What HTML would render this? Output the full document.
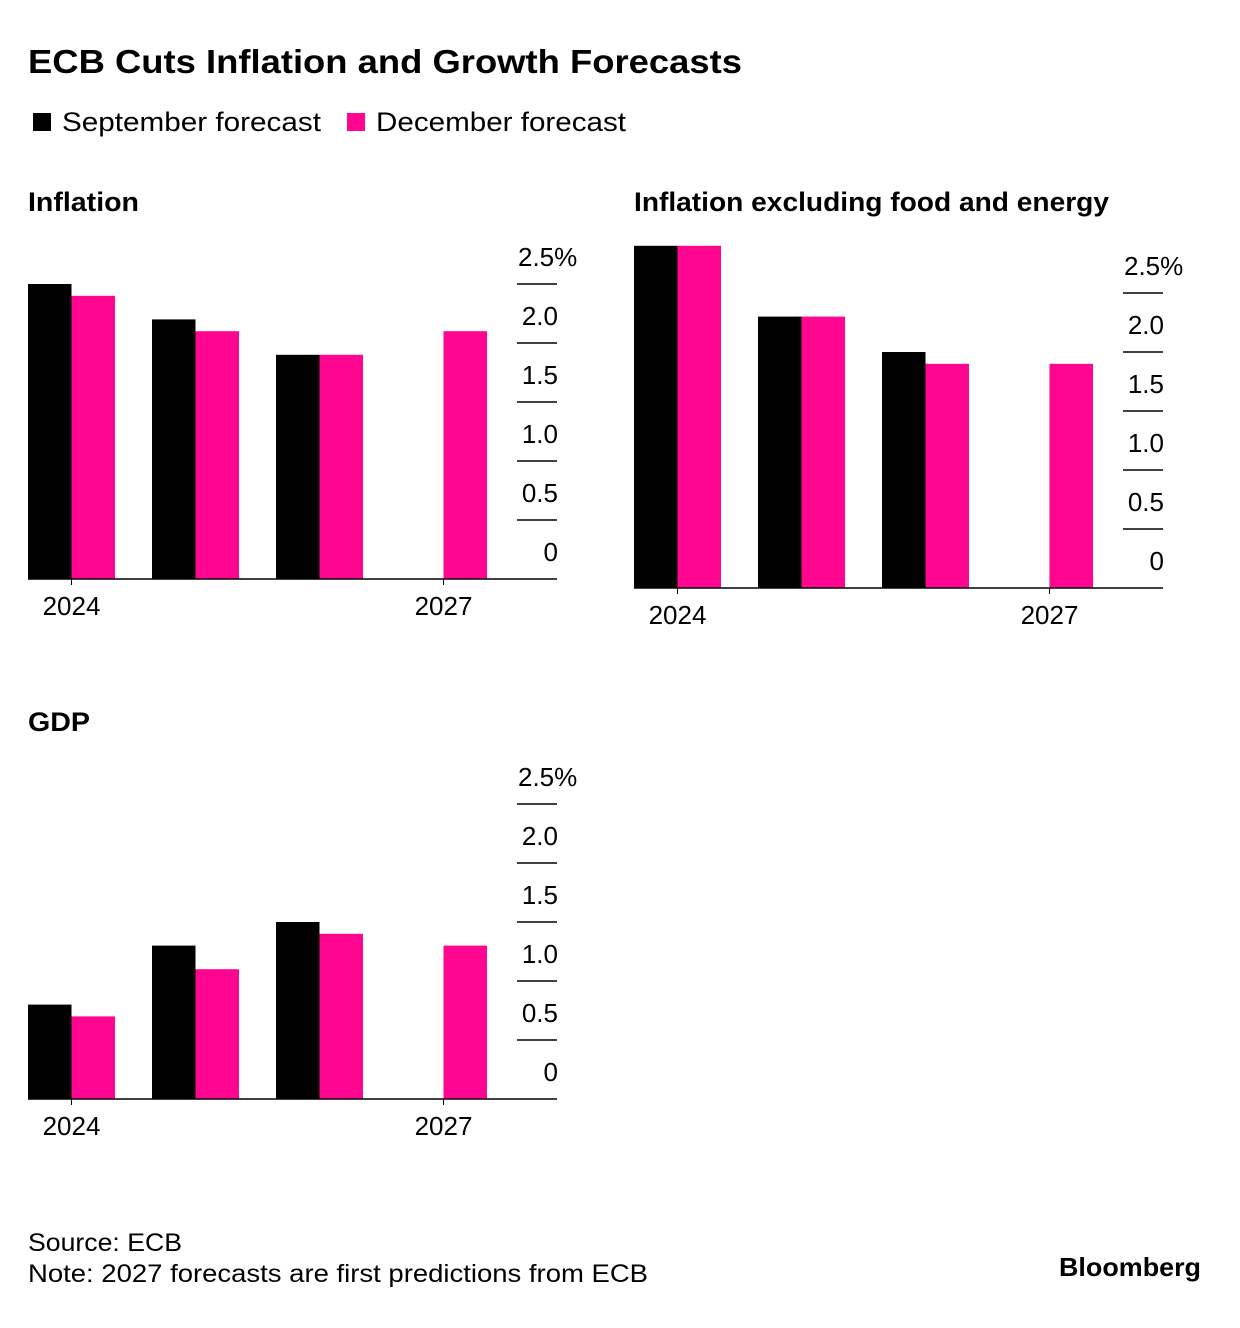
<!DOCTYPE html>
<html><head><meta charset="utf-8">
<style>
html,body{margin:0;padding:0;background:#fff;}
svg{display:block;font-family:"Liberation Sans",Arial,sans-serif;}
</style></head>
<body>
<svg id="page" width="1240" height="1328" viewBox="0 0 1240 1328" xmlns="http://www.w3.org/2000/svg">
<text x="28" y="73" font-size="33" font-weight="bold" fill="#000" textLength="714" lengthAdjust="spacingAndGlyphs">ECB Cuts Inflation and Growth Forecasts</text>
<g>
<rect x="33" y="113" width="18" height="18" fill="#000"/>
<text x="62" y="131" font-size="27" fill="#000" textLength="259" lengthAdjust="spacingAndGlyphs">September forecast</text>
<rect x="347" y="113" width="18" height="18" fill="#ff0590"/>
<text x="376" y="131" font-size="27" fill="#000" textLength="250" lengthAdjust="spacingAndGlyphs">December forecast</text>
</g>
<g id="panels"></g>
<text x="28" y="1251" font-size="25" fill="#000" textLength="154" lengthAdjust="spacingAndGlyphs">Source: ECB</text>
<text x="28" y="1282" font-size="25" fill="#000" textLength="620" lengthAdjust="spacingAndGlyphs">Note: 2027 forecasts are first predictions from ECB</text>
<text x="1059" y="1276" font-size="26" font-weight="bold" fill="#000" textLength="142" lengthAdjust="spacingAndGlyphs">Bloomberg</text>
</svg>
<script>
const years = ["2024","2025","2026","2027"];
const yearLabels = ["2024","","","2027"];
const tickValues = [0,0.5,1.0,1.5,2.0,2.5];
const tickLabels = ["0","0.5","1.0","1.5","2.0","2.5%"];
const inflationSep = [2.5,2.2,1.9,null];
const inflationDec = [2.4,2.1,1.9,2.1];
const coreSep = [2.9,2.3,2.0,null];
const coreDec = [2.9,2.3,1.9,1.9];
const gdpSep = [0.8,1.3,1.5,null];
const gdpDec = [0.7,1.1,1.4,1.3];

const NS="http://www.w3.org/2000/svg";
const root=document.getElementById('panels');
function mk(tag,attrs,parent){const e=document.createElementNS(NS,tag);for(const k in attrs)e.setAttribute(k,attrs[k]);parent.appendChild(e);return e;}

function panel(name,title,titleW,ox,oy,titleY,sep,dec){
  const g=mk('g',{},root);
  
  
  const base=oy, left=ox;
  const yScale=v=>base-v*118;
  const xGroup=i=>left+i*124;
  const t=mk('text',{x:left,y:titleY,'font-size':27,'font-weight':'bold',fill:'#000',textLength:titleW,lengthAdjust:'spacingAndGlyphs'},g);
  t.textContent=title;
  
  
  years.forEach((yr,i)=>{
    if(sep[i]!=null){
      const r=mk('rect',{x:xGroup(i),y:yScale(sep[i]),width:43.5,height:base-yScale(sep[i]),fill:'#000'},g);
      
      
    }
    if(dec[i]!=null){
      const r=mk('rect',{x:xGroup(i)+43.5,y:yScale(dec[i]),width:43.5,height:base-yScale(dec[i]),fill:'#ff0590'},g);
      
      
    }
    if(yearLabels[i]){
      const l=mk('text',{x:xGroup(i)+43.5,y:base+36,'font-size':26,'text-anchor':'middle',fill:'#000'},g);
      l.textContent=yearLabels[i];
      
      
      const tk=mk('line',{x1:xGroup(i)+43.5,x2:xGroup(i)+43.5,y1:base,y2:base+6,stroke:'#000','stroke-width':1},g);
      
      
    }
  });
  tickValues.forEach((v,i)=>{
    const y=yScale(v);
    if(v>0){
      const ln=mk('line',{x1:left+489,x2:left+529,y1:y,y2:y,stroke:'#000','stroke-width':1.5},g);
      
      
    }
    const tl=mk('text',{x:left+530,y:y-18,'font-size':26,'text-anchor':'end',fill:'#000'},g);
    if(i===tickValues.length-1){tl.setAttribute('text-anchor','start');tl.setAttribute('x',left+490);}
    tl.textContent=tickLabels[i];
    
    
  });
  const ax=mk('line',{x1:left,x2:left+529,y1:base,y2:base,stroke:'#000','stroke-width':1.5},g);
  
  
}
panel('inflation','Inflation',111,28,579,211,inflationSep,inflationDec);
panel('core-inflation','Inflation excluding food and energy',475,634,588,211,coreSep,coreDec);
panel('gdp','GDP',62,28,1099,731,gdpSep,gdpDec);
</script>
</body></html>
